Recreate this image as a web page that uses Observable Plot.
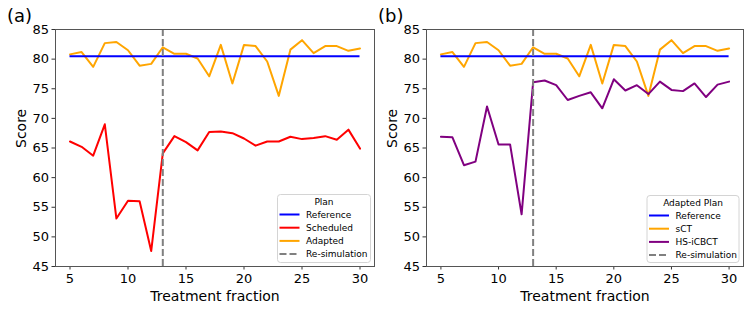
<!DOCTYPE html>
<html><head><meta charset="utf-8">
<script src="https://cdn.jsdelivr.net/npm/d3@7"></script>
<script src="https://cdn.jsdelivr.net/npm/@observablehq/plot@0.6"></script>
<style>
body{margin:0;background:#fff;font-family:"DejaVu Sans",sans-serif;}
#wrap{position:relative;width:750px;height:311px;display:flex;}
.panel{width:375px;height:311px;}
#overlay{position:absolute;left:0;top:0;pointer-events:none;}
</style>
</head><body>
<div id="wrap"><div class="panel" id="pa"></div><div class="panel" id="pb"></div></div>
<script>
// ---- data ----
const fractions = [5,6,7,8,9,10,11,12,13,14,15,16,17,18,19,20,21,22,23,24,25,26,27,28,29,30];
const referenceScore = 80.5;
const adaptedScores = [80.8,81.2,78.7,82.7,82.9,81.5,78.9,79.2,82.0,80.9,80.9,80.1,77.1,82.4,75.9,82.4,82.2,79.6,73.8,81.6,83.2,81.0,82.2,82.2,81.4,81.8];
const scheduledScores = [66.1,65.2,63.7,69.0,53.1,56.1,56.0,47.6,64.1,67.0,66.0,64.6,67.7,67.8,67.5,66.6,65.4,66.1,66.1,66.9,66.5,66.7,67.0,66.4,68.1,64.9];
const sctScores = [80.8,81.2,78.7,82.7,82.9,81.5,78.9,79.2,82.0,80.9,80.9,80.1,77.1,82.4,75.9,82.4,82.2,79.6,73.8,81.6,83.2,81.0,82.2,82.2,81.4,81.8];
const hsicbctScores = [66.9,66.8,62.1,62.7,72.0,65.6,65.6,53.8,76.1,76.4,75.6,73.1,73.8,74.4,71.7,76.6,74.7,75.6,74.1,76.2,74.8,74.6,75.9,73.6,75.7,76.2];
const resimulationFraction = 13;
const xTicks = [5,10,15,20,25,30];
const yTicks = [45,50,55,60,65,70,75,80,85];
const xLabel = "Treatment fraction";
const yLabel = "Score";
const legendA = {title:"Plan", items:[["Reference","blue",false],["Scheduled","red",false],["Adapted","orange",false],["Re-simulation","gray",true]]};
const legendB = {title:"Adapted Plan", items:[["Reference","blue",false],["sCT","orange",false],["HS-iCBCT","purple",false],["Re-simulation","gray",true]]};

function rows(vals){ return fractions.map((f,i)=>({fraction:f, score:vals[i]})); }

function panel(topVals, topColor, lowVals, lowColor, ml, mr){
  return Plot.plot({
    width:375, height:311, marginLeft:ml, marginRight:mr, marginTop:29, marginBottom:45,
    style:{fontFamily:"DejaVu Sans, sans-serif", fontSize:"13px", color:"black", background:"white", overflow:"visible"},
    x:{domain:[3.75,31.25]},
    y:{domain:[45,85]},
    marks:[
      Plot.axisX({ticks:xTicks, tickSize:3.5, tickPadding:4, fontSize:13, label:null, stroke:"#333"}),
      Plot.axisY({ticks:yTicks, tickSize:3.5, tickPadding:3, fontSize:13, label:null, stroke:"#333"}),
      Plot.text([xLabel], {text:d=>d, frameAnchor:"bottom", dy:34, fontSize:14}),
      Plot.text([yLabel], {text:d=>d, frameAnchor:"left", rotate:-90, dx:-34, fontSize:14}),
      Plot.line(rows(topVals), {x:"fraction", y:"score", stroke:topColor, strokeWidth:2}),
      Plot.line(rows(lowVals), {x:"fraction", y:"score", stroke:lowColor, strokeWidth:2}),
      Plot.ruleY([referenceScore], {x1:fractions[0], x2:fractions[fractions.length-1], stroke:"blue", strokeWidth:2}),
      Plot.ruleX([resimulationFraction], {stroke:"gray", strokeWidth:2, strokeDasharray:"7,3"}),
      Plot.frame({stroke:"#555", strokeWidth:1})
    ]
  });
}

document.getElementById("pa").appendChild(panel(adaptedScores,"orange",scheduledScores,"red",55,1));
document.getElementById("pb").appendChild(panel(sctScores,"orange",hsicbctScores,"purple",51,7));

// overlay: panel tags and legends
const ov = d3.select("#wrap").append("svg").attr("id","overlay").attr("width",750).attr("height",311)
  .style("font-family","DejaVu Sans, sans-serif");
ov.append("text").attr("x",7).attr("y",22).attr("font-size",18).text("(a)");
ov.append("text").attr("x",378).attr("y",22).attr("font-size",18).text("(b)");

function legend(spec, x, y, w, h){
  const g = ov.append("g").attr("transform",`translate(${x},${y})`);
  g.append("rect").attr("x",0.5).attr("y",0.5).attr("width",w).attr("height",h).attr("rx",3)
    .attr("fill","white").attr("fill-opacity",0.8).attr("stroke","#d4d4d4");
  g.append("text").attr("x",w/2+0.5).attr("y",11).attr("text-anchor","middle").attr("font-size",9).text(spec.title);
  spec.items.forEach(([name,color,dashed],i)=>{
    const cy = 20.5 + i*13.2;
    g.append("line").attr("x1",2.5).attr("x2",22.5).attr("y1",cy).attr("y2",cy)
      .attr("stroke",color).attr("stroke-width",2).attr("stroke-dasharray",dashed?"7,3":null);
    g.append("text").attr("x",29).attr("y",cy+3.2).attr("font-size",9).text(name);
  });
}
legend(legendA, 277, 194, 93, 68);
legend(legendB, 646.5, 195, 92, 67);
</script>
</body></html>
